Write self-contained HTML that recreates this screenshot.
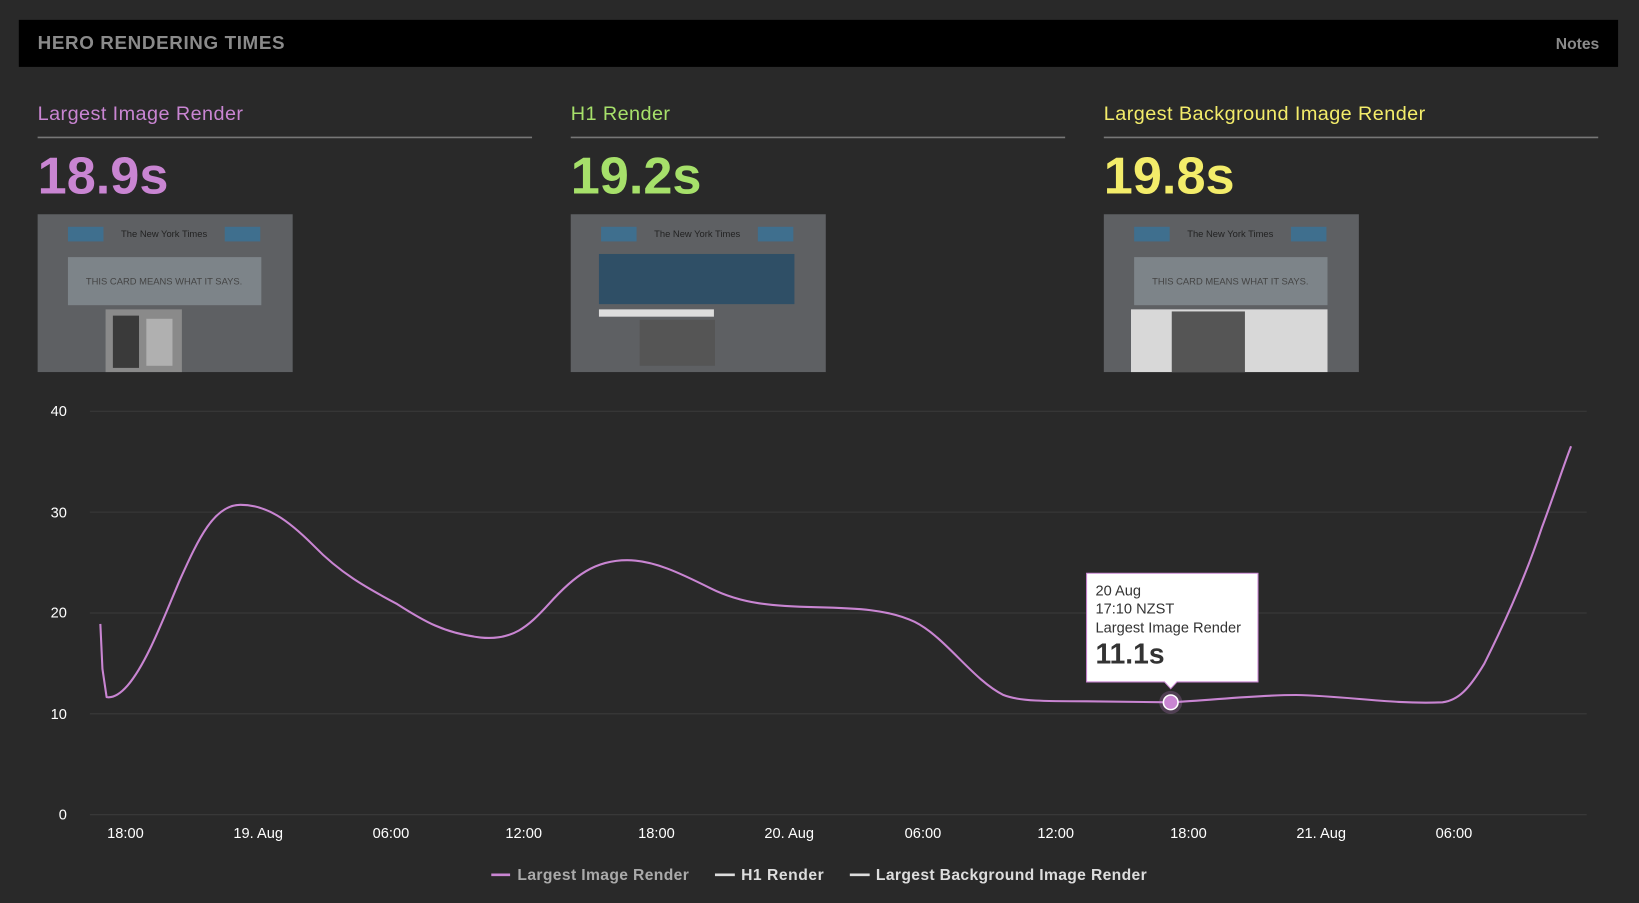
<!DOCTYPE html>
<html><head><meta charset="utf-8"><style>
html,body{margin:0;padding:0;background:#292929;}
svg{display:block}
text{font-family:"Liberation Sans",sans-serif}
</style></head><body>
<svg width="1639" height="903" viewBox="0 0 1568 864" preserveAspectRatio="none" xmlns="http://www.w3.org/2000/svg">
<rect x="0" y="0" width="1568" height="864" fill="#292929"/>
<rect x="18" y="19" width="1530" height="45" fill="#000"/>
<text x="36" y="47" font-size="18" font-weight="bold" fill="#8a8a8a" letter-spacing="0.6">HERO RENDERING TIMES</text>
<text x="1530" y="47" font-size="15" font-weight="bold" fill="#8a8a8a" text-anchor="end">Notes</text>

<g font-size="19" letter-spacing="0.4">
<text x="36" y="115" fill="#c985d2">Largest Image Render</text>
<text x="546" y="115" fill="#a6e06a">H1 Render</text>
<text x="1056" y="115" fill="#f3ec6a">Largest Background Image Render</text>
</g>
<g stroke="#777" stroke-width="1.5">
<line x1="36" y1="131.5" x2="509" y2="131.5"/>
<line x1="546" y1="131.5" x2="1019" y2="131.5"/>
<line x1="1056" y1="131.5" x2="1529" y2="131.5"/>
</g>
<g font-size="50" font-weight="bold">
<text x="36" y="185" fill="#c985d2">18.9s</text>
<text x="546" y="185" fill="#a6e06a">19.2s</text>
<text x="1056" y="185" fill="#f3ec6a">19.8s</text>
</g>

<g>
<rect x="36" y="205" width="244" height="151" fill="#5e6063"/>
<rect x="65" y="217" width="34" height="14" fill="#3f6f8e"/>
<rect x="215" y="217" width="34" height="14" fill="#3f6f8e"/>
<text x="157" y="227" font-size="9" fill="#222" text-anchor="middle" font-family="Liberation Serif">The New York Times</text>
<rect x="65" y="246" width="185" height="46" fill="#7d8489"/>
<text x="157" y="272" font-size="9" fill="#444" text-anchor="middle">THIS CARD MEANS WHAT IT SAYS.</text>
<rect x="101" y="296" width="73" height="60" fill="#8a8a8a"/>
<rect x="108" y="302" width="25" height="50" fill="#3a3a3a"/>
<rect x="140" y="305" width="25" height="45" fill="#b0b0b0"/>
</g>
<g>
<rect x="546" y="205" width="244" height="151" fill="#5e6063"/>
<rect x="575" y="217" width="34" height="14" fill="#3f6f8e"/>
<rect x="725" y="217" width="34" height="14" fill="#3f6f8e"/>
<text x="667" y="227" font-size="9" fill="#222" text-anchor="middle" font-family="Liberation Serif">The New York Times</text>
<rect x="573" y="243" width="187" height="48" fill="#2f4f66"/>
<rect x="573" y="296" width="110" height="7" fill="#ddd"/>
<rect x="612" y="306" width="72" height="44" fill="#555"/>
</g>
<g>
<rect x="1056" y="205" width="244" height="151" fill="#5e6063"/>
<rect x="1085" y="217" width="34" height="14" fill="#3f6f8e"/>
<rect x="1235" y="217" width="34" height="14" fill="#3f6f8e"/>
<text x="1177" y="227" font-size="9" fill="#222" text-anchor="middle" font-family="Liberation Serif">The New York Times</text>
<rect x="1085" y="246" width="185" height="46" fill="#7d8489"/>
<text x="1177" y="272" font-size="9" fill="#444" text-anchor="middle">THIS CARD MEANS WHAT IT SAYS.</text>
<rect x="1082" y="296" width="188" height="60" fill="#d8d8d8"/>
<rect x="1121" y="298" width="70" height="58" fill="#555"/>
</g>

<g stroke="#3a3a3a" stroke-width="1">
<line x1="86" y1="393.5" x2="1518" y2="393.5"/>
<line x1="86" y1="490" x2="1518" y2="490"/>
<line x1="86" y1="586.5" x2="1518" y2="586.5"/>
<line x1="86" y1="683" x2="1518" y2="683"/>
<line x1="86" y1="779.5" x2="1518" y2="779.5"/>
</g>
<g font-size="14" fill="#fff" text-anchor="end">
<text x="64" y="398">40</text><text x="64" y="495">30</text><text x="64" y="591">20</text><text x="64" y="688">10</text><text x="64" y="784">0</text>
</g>
<g font-size="14" fill="#fff" text-anchor="middle">
<text x="120" y="802">18:00</text><text x="247" y="802">19. Aug</text><text x="374" y="802">06:00</text><text x="501" y="802">12:00</text><text x="628" y="802">18:00</text><text x="755" y="802">20. Aug</text><text x="883" y="802">06:00</text><text x="1010" y="802">12:00</text><text x="1137" y="802">18:00</text><text x="1264" y="802">21. Aug</text><text x="1391" y="802">06:00</text>
</g>

<path fill="none" stroke="#c985d2" stroke-width="2" stroke-linejoin="round"
d="M96,597 L98,640 L102,667 C108,668 115,664 122,656 C140,635 155,595 172,555 C190,515 205,483 230,483 C255,483 275,497 300,522 C325,548 350,562 380,578 C405,594 425,606 460,610 C490,613 505,600 525,578 C550,550 570,536 600,536 C625,536 650,548 680,563 C710,578 740,580 780,581 C820,582 850,583 875,595 C905,610 930,650 960,665 C975,671 1000,671 1040,671 L1120,672 C1160,670 1200,665 1240,665 C1290,666 1330,674 1380,672 C1395,670 1405,660 1420,635 C1440,595 1460,550 1475,505 C1488,470 1496,445 1503,427"/>

<circle cx="1120" cy="672" r="11" fill="#c985d2" opacity="0.25"/>
<circle cx="1120" cy="672" r="7" fill="#c985d2" stroke="#fff" stroke-width="1.5"/>
<path d="M1039.5,548.5 H1203.5 V652.5 H1126 L1120,659 L1114,652.5 H1039.5 Z" fill="#fff" stroke="#c985d2" stroke-width="1"/>
<text x="1048" y="570" font-size="14" fill="#333">20 Aug</text>
<text x="1048" y="587" font-size="14" fill="#333">17:10 NZST</text>
<text x="1048" y="605" font-size="14" fill="#333">Largest Image Render</text>
<text x="1048" y="635" font-size="27" font-weight="bold" fill="#333">11.1s</text>

<g font-size="15" font-weight="bold">
<line x1="470" y1="837" x2="488" y2="837" stroke="#c985d2" stroke-width="2.5"/>
<text x="495" y="842" fill="#aaa" textLength="164">Largest Image Render</text>
<line x1="684" y1="837" x2="703" y2="837" stroke="#ddd" stroke-width="2.5"/>
<text x="709" y="842" fill="#ddd" textLength="79">H1 Render</text>
<line x1="813" y1="837" x2="832" y2="837" stroke="#ddd" stroke-width="2.5"/>
<text x="838" y="842" fill="#ddd" textLength="259">Largest Background Image Render</text>
</g>
</svg>
</body></html>
